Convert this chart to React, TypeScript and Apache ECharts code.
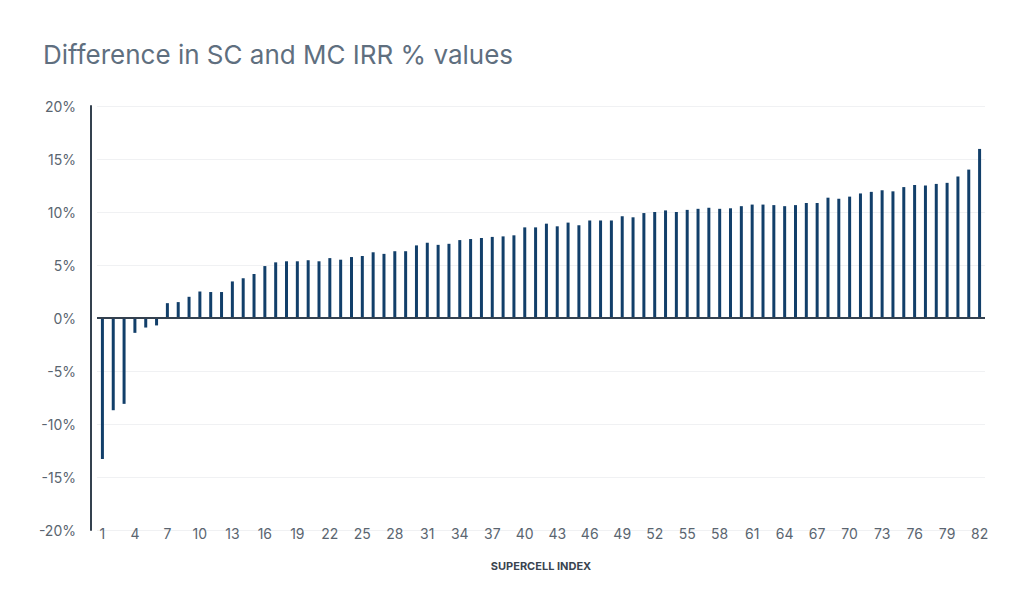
import React, { useEffect, useRef } from "react";
import * as echarts from "echarts";

const titleText = "Difference in SC and MC IRR % values";
const xAxisName = "SUPERCELL INDEX";

const supercellIndex: string[] = Array.from({ length: 82 }, (_, i) => String(i + 1));

const irrDifference: number[] = [
  -13.3, -8.7, -8.1, -1.4, -0.9, -0.7, 1.4, 1.5, 2.0, 2.5,
  2.45, 2.45, 3.45, 3.75, 4.15, 4.9, 5.25, 5.35, 5.35, 5.45,
  5.35, 5.65, 5.5, 5.75, 5.85, 6.2, 6.05, 6.3, 6.3, 6.85,
  7.1, 6.9, 7.0, 7.35, 7.45, 7.55, 7.65, 7.7, 7.8, 8.55,
  8.55, 8.9, 8.65, 9.0, 8.75, 9.2, 9.2, 9.2, 9.6, 9.5,
  9.9, 10.0, 10.15, 10.0, 10.2, 10.3, 10.4, 10.3, 10.35, 10.55,
  10.7, 10.7, 10.65, 10.55, 10.65, 10.85, 10.85, 11.35, 11.25, 11.45,
  11.75, 11.9, 12.05, 11.95, 12.35, 12.55, 12.5, 12.65, 12.75, 13.35,
  14.0, 15.95,
];

const yTicks = { min: -20, max: 20, interval: 5 };

export default function App() {
  const ref = useRef<HTMLDivElement>(null);

  useEffect(() => {
    if (!ref.current) return;
    const chart = echarts.init(ref.current, null, { renderer: "svg" });
    const font = "Inter, 'Noto Sans', sans-serif";
    chart.setOption({
      animation: false,
      backgroundColor: "#ffffff",
      textStyle: { fontFamily: font },
      title: {
        text: titleText,
        left: 38,
        top: 36,
        textStyle: {
          fontFamily: font,
          fontSize: 26,
          fontWeight: "normal",
          color: "#5f6f7f",
        },
      },
      grid: { left: 97, right: 39, top: 106, bottom: 77 },
      xAxis: {
        type: "category",
        data: supercellIndex,
        boundaryGap: true,
        axisLine: { show: false, onZero: false },
        axisTick: { show: false },
        axisLabel: {
          interval: 2,
          margin: -4,
          fontSize: 14,
          color: "#5a6570",
          fontFamily: font,
        },
        name: xAxisName,
        nameLocation: "middle",
        nameGap: 30,
        nameTextStyle: {
          fontSize: 11,
          fontWeight: "bold",
          color: "#3a4450",
          fontFamily: font,
        },
        splitLine: { show: false },
      },
      yAxis: {
        type: "value",
        min: yTicks.min,
        max: yTicks.max,
        interval: yTicks.interval,
        offset: 6,
        axisLine: { show: true, lineStyle: { color: "#34414f", width: 2 } },
        axisTick: { show: false },
        axisLabel: {
          formatter: (v: number) => `${v}%`,
          margin: 15,
          fontSize: 14,
          color: "#5a6570",
          fontFamily: font,
        },
        splitLine: { show: true, lineStyle: { color: "#f0f1f3", width: 1 } },
      },
      series: [
        {
          type: "bar",
          data: irrDifference,
          barWidth: 3,
          itemStyle: { color: "#123f6a" },
          markLine: {
            silent: true,
            symbol: "none",
            label: { show: false },
            lineStyle: { color: "#34414f", width: 2, type: "solid" },
            data: [{ yAxis: 0 }],
          },
        },
      ],
    });
    return () => chart.dispose();
  }, []);

  return (
    <div
      ref={ref}
      style={{ position: "fixed", left: 0, top: 0, width: 1024, height: 607 }}
    />
  );
}
